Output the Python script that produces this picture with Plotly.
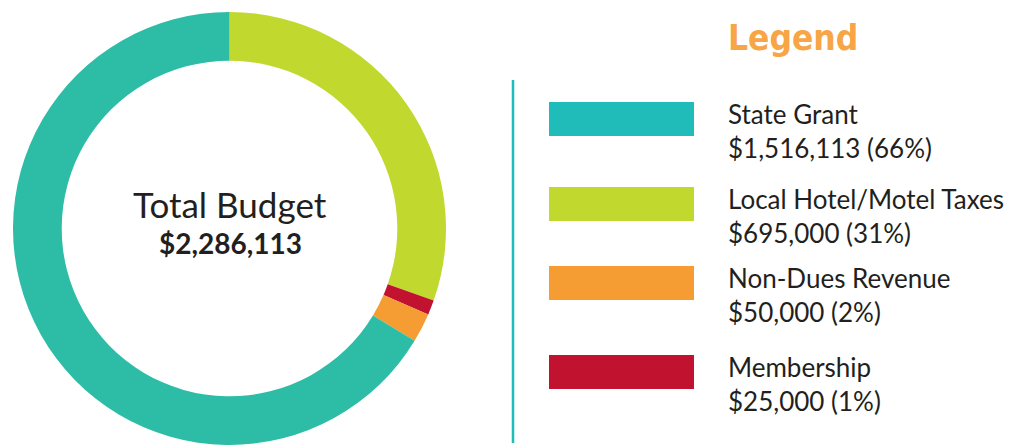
import plotly.graph_objects as go

# ---- data ----
categories = ["State Grant", "Local Hotel/Motel Taxes", "Non-Dues Revenue", "Membership"]
amounts = [1516113, 695000, 50000, 25000]
amount_labels = ["$1,516,113 (66%)", "$695,000 (31%)", "$50,000 (2%)", "$25,000 (1%)"]
total_label = "$2,286,113"
pie_order = [1, 3, 2, 0]  # clockwise from 12 o'clock

# ---- styles ----
donut_colors = ["#2DBDA6", "#C1D82F", "#F59D33", "#C1122F"]
swatch_colors = ["#1FBCB9", "#C1D82F", "#F59D33", "#C1122F"]
text_color = "#231F20"
FONT = "Lato"
W, H = 1035, 445


def px(x):
    return x / W


def py(y):
    return 1 - y / H


fig = go.Figure()
fig.add_trace(go.Pie(
    labels=[categories[i] for i in pie_order],
    values=[amounts[i] for i in pie_order],
    marker=dict(colors=[donut_colors[i] for i in pie_order], line=dict(width=0)),
    sort=False,
    direction="clockwise",
    rotation=0,
    hole=0.775,
    textinfo="none",
    hoverinfo="label+value+percent",
    showlegend=False,
    domain=dict(x=[px(13), px(446)], y=[py(445), py(12)]),
))

annotations = [
    dict(text="Total Budget", x=px(230), y=py(204), xref="paper", yref="paper",
         xanchor="center", yanchor="middle", showarrow=False,
         font=dict(family=FONT, size=35, color=text_color)),
    dict(text="<b>" + total_label + "</b>", x=px(230), y=py(243), xref="paper", yref="paper",
         xanchor="center", yanchor="middle", showarrow=False,
         font=dict(family=FONT, size=28, color=text_color)),
    dict(text="<b>Legend</b>", x=px(726), y=py(38), xref="paper", yref="paper",
         xanchor="left", yanchor="middle", showarrow=False,
         font=dict(family="DejaVu Sans Condensed, Lato", size=35, color="#F7A545")),
]

shapes = [
    dict(type="line", xref="paper", yref="paper",
         x0=px(513), x1=px(513), y0=py(80), y1=py(443),
         line=dict(color="#1FBCB9", width=2.5)),
]

row_top = [102, 187, 266, 355]
for i, cat in enumerate(categories):
    t = row_top[i]
    shapes.append(dict(type="rect", xref="paper", yref="paper",
                       x0=px(549), x1=px(694), y0=py(t + 34), y1=py(t),
                       fillcolor=swatch_colors[i], line=dict(width=0)))
    annotations.append(dict(text=cat, x=px(726), y=py(t + 12), xref="paper", yref="paper",
                            xanchor="left", yanchor="middle", showarrow=False,
                            font=dict(family=FONT, size=26, color=text_color)))
    annotations.append(dict(text=amount_labels[i], x=px(726), y=py(t + 46), xref="paper", yref="paper",
                            xanchor="left", yanchor="middle", showarrow=False,
                            font=dict(family=FONT, size=26, color=text_color)))

fig.update_layout(
    width=W, height=H,
    margin=dict(l=0, r=0, t=0, b=0),
    paper_bgcolor="white", plot_bgcolor="white",
    annotations=annotations, shapes=shapes,
)

fig.write_html("out.html")
